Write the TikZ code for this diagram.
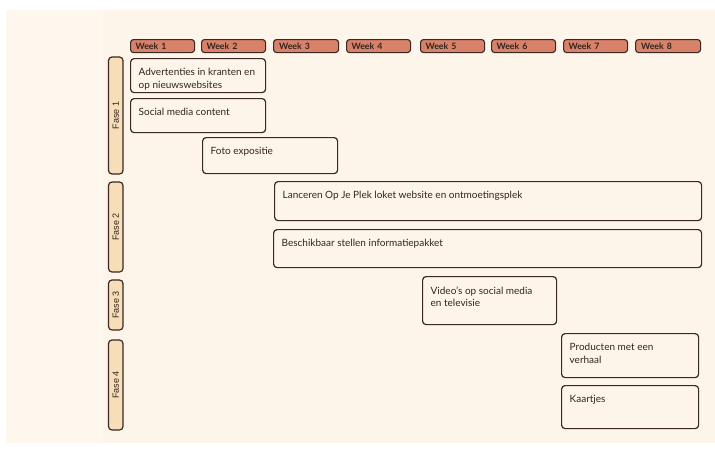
\documentclass[tikz,border=0pt]{standalone}
\usepackage{fontspec}
\setmainfont{Lato}
\newfontfamily\fasefont{Liberation Sans}
\definecolor{bgcream}{HTML}{FDF5E9}
\definecolor{bgleft}{HTML}{FDF7ED}
\definecolor{weekfill}{HTML}{D9826A}
\definecolor{fasefill}{HTML}{F6DFB8}
\definecolor{ink}{HTML}{3B2823}
\definecolor{txt}{HTML}{33241F}
\tikzset{
  sketch/.style={draw=ink, line width=1.2pt, rounded corners=3.5pt},
  taskbox/.style={sketch, fill=bgcream, inner sep=0pt, anchor=north west},
  tasktext/.style={font=\fontsize{10}{12.3}\selectfont, text=txt, align=left, inner sep=0pt, anchor=north west},
  weekbox/.style={sketch, fill=weekfill, rounded corners=3pt, line width=1.1pt, anchor=north west, minimum height=13pt, inner ysep=0pt, inner xsep=5pt, text width=54pt, align=left, font=\fontsize{8.8}{9}\selectfont\bfseries, text=txt},
  fasebox/.style={sketch, fill=fasefill, rotate=90, minimum height=14.5pt, inner sep=0pt, font=\fasefont\fontsize{9}{10}\selectfont, text=txt}
}
\newcommand\mytask[6]{%
  \node[taskbox, minimum width=#4pt-#2pt, minimum height=#5pt-#3pt] (#1) at (#2,#3) {};
  \node[tasktext] (#1-t) at ([xshift=8.5pt,yshift=-10.3pt]#1.north west) {#6};}
\begin{document}
\begin{tikzpicture}[x=1pt,y=-1pt]
\useasboundingbox (0,0) rectangle (715,450);
\fill[white] (0,0) rectangle (715,450);
\fill[bgcream] (6,10) rectangle (715,443);
\fill[bgleft] (6,10) rectangle (103,443);
% weeks
\node[weekbox, minimum width=64pt] (w1) at (130,39) {Week 1};
\node[weekbox, minimum width=64pt] (w2) at (201,39) {Week 2};
\node[weekbox, minimum width=65pt] (w3) at (273,39) {Week 3};
\node[weekbox, minimum width=64pt] (w4) at (346,39) {Week 4};
\node[weekbox, minimum width=64pt] (w5) at (420,39) {Week 5};
\node[weekbox, minimum width=64pt] (w6) at (491,39) {Week 6};
\node[weekbox, minimum width=64pt] (w7) at (563,39) {Week 7};
\node[weekbox, minimum width=65pt] (w8) at (635,39) {Week 8};
% phases
\node[fasebox, minimum width=117pt] (f1) at (115.75,115.5) {Fase 1};
\node[fasebox, minimum width=90pt] (f2) at (115.75,227) {Fase 2};
\node[fasebox, minimum width=50pt] (f3) at (115.75,305) {Fase 3};
\node[fasebox, minimum width=90pt] (f4) at (115.75,385) {Fase 4};
% tasks
\mytask{adv}{130}{58}{265}{92}{Advertenties in kranten en\\op nieuwswebsites}
\mytask{soc}{130}{98}{265}{132}{Social media content}
\mytask{foto}{202}{137}{337}{173}{Foto expositie}
\mytask{lan}{274}{181}{701}{220}{Lanceren Op Je Plek loket website en ontmoetingsplek}
\mytask{bes}{273}{229}{701}{267}{Beschikbaar stellen informatiepakket}
\mytask{vid}{422}{276}{556}{324}{Video's op social media\\en televisie}
\mytask{pro}{561}{333}{698}{377}{Producten met een\\verhaal}
\mytask{kaa}{561}{385}{698}{428}{Kaartjes}
\end{tikzpicture}
\end{document}
